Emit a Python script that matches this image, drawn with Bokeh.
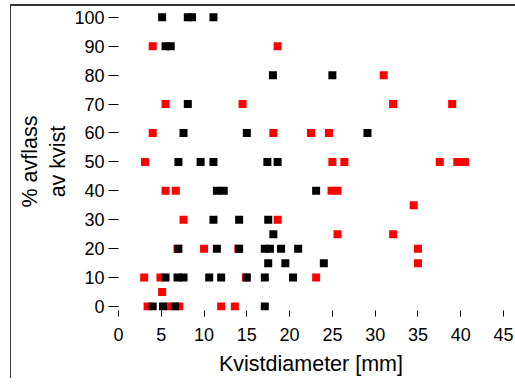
from bokeh.plotting import figure
from bokeh.models import Range1d, FixedTicker
from bokeh.embed import file_html
from bokeh.resources import INLINE

# Data
black_x = [5.1, 8.1, 8.6, 11.1,
           5.5, 6.1,
           18.05, 25.0,
           8.1,
           7.6, 15.0, 29.1,
           7.0, 9.6, 11.1, 17.4, 18.6,
           11.5, 12.3, 23.1,
           11.1, 14.1, 17.5,
           18.1,
           7.0, 11.5, 14.1, 17.1, 17.7, 19.0, 21.0,
           17.5, 19.5, 24.0,
           5.5, 6.9, 7.6, 10.6, 12.0, 15.0, 17.1, 20.4,
           4.0, 5.2, 6.6, 17.1]
black_y = [100, 100, 100, 100,
           90, 90,
           80, 80,
           70,
           60, 60, 60,
           50, 50, 50, 50, 50,
           40, 40, 40,
           30, 30, 30,
           25,
           20, 20, 20, 20, 20, 20, 20,
           15, 15, 15,
           10, 10, 10, 10, 10, 10, 10, 10,
           0, 0, 0, 0]

red_x = [4.0, 18.6,
         31.0,
         5.5, 14.5, 32.1, 39.0,
         4.0, 18.1, 22.5, 24.6,
         3.1, 25.0, 26.4, 37.55, 39.6, 40.5,
         5.5, 6.7, 24.9, 25.6,
         34.5,
         7.6, 18.6,
         25.6, 32.1,
         6.9, 10.0, 14.0, 35.0,
         35.0,
         3.0, 4.9, 14.9, 23.1,
         5.1,
         3.4, 6.0, 7.1, 12.0, 13.6]
red_y = [90, 90,
         80,
         70, 70, 70, 70,
         60, 60, 60, 60,
         50, 50, 50, 50, 50, 50,
         40, 40, 40, 40,
         35,
         30, 30,
         25, 25,
         20, 20, 20, 20,
         15,
         10, 10, 10, 10,
         5,
         0, 0, 0, 0, 0]

x_ticks = [0, 5, 10, 15, 20, 25, 30, 35, 40, 45]
y_ticks = [0, 10, 20, 30, 40, 50, 60, 70, 80, 90, 100]

FONT = "Liberation Sans"

p = figure(frame_width=385, frame_height=298,
           x_range=Range1d(0, 45), y_range=Range1d(-1.38, 101.66),
           output_backend="svg", toolbar_location=None,
           min_border_left=107, min_border_top=6, min_border_right=12,
           min_border_bottom=0)

p.grid.visible = False
p.outline_line_color = None
p.background_fill_color = "white"
p.border_fill_color = "white"

p.scatter(red_x, red_y, marker="square", size=8, fill_color="#ff0000", line_color=None)
p.scatter(black_x, black_y, marker="square", size=8, fill_color="#000000", line_color=None)

for ax in (p.xaxis[0], p.yaxis[0]):
    ax.axis_line_color = None
    ax.major_tick_in = 0
    ax.major_tick_line_color = "#000000"
    ax.minor_tick_line_color = None
    ax.major_label_text_font = FONT
    ax.major_label_text_font_size = "18px"
    ax.major_label_text_color = "#000000"
    ax.axis_label_text_font = FONT
    ax.axis_label_text_font_size = "21.5px"
    ax.axis_label_text_font_style = "normal"
    ax.axis_label_text_color = "#000000"

p.xaxis.ticker = FixedTicker(ticks=x_ticks)
p.xaxis.major_tick_out = 6
p.xaxis.major_label_standoff = 11
p.xaxis.axis_label = "Kvistdiameter [mm]"
p.xaxis.axis_label_standoff = 8

p.yaxis.ticker = FixedTicker(ticks=y_ticks)
p.yaxis.major_tick_out = 10
p.yaxis.major_label_standoff = 4
p.yaxis.major_label_orientation = "horizontal"
p.yaxis.axis_label = "% avflass\nav kvist"
p.yaxis.axis_label_standoff = 1

p.styles = {"margin-left": "10px", "margin-top": "4px",
            "border-top": "2px solid #333333", "border-left": "1px solid #333333"}

open("out.html", "w").write(file_html(p, INLINE))
